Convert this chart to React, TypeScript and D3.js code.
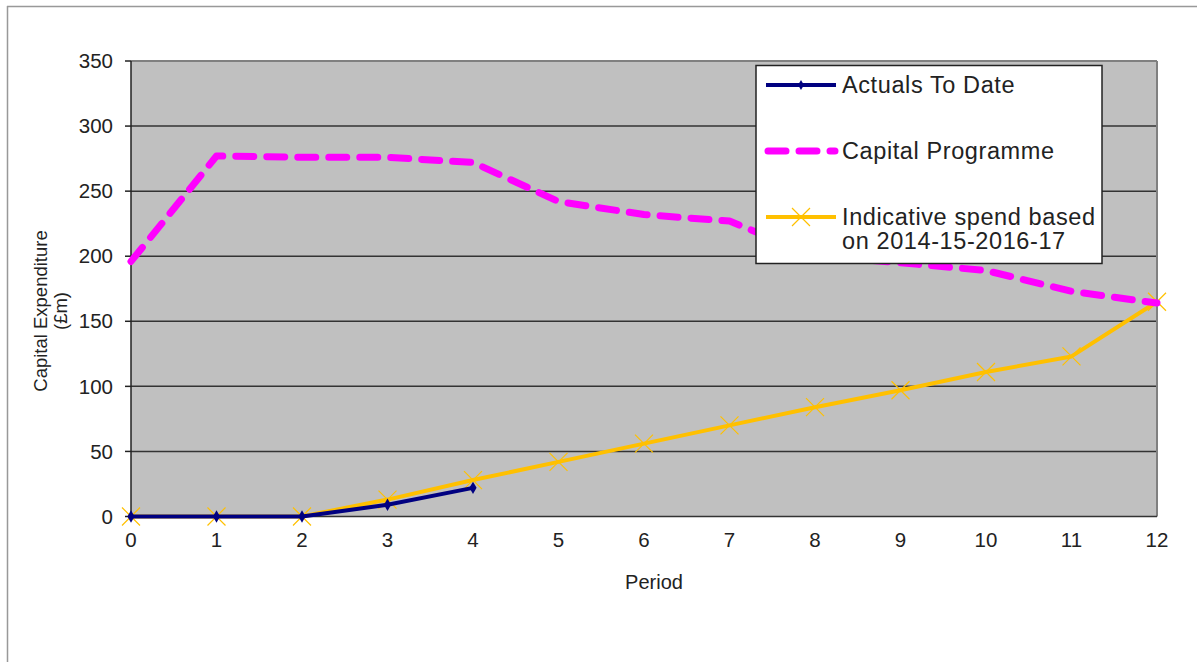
import React from "react";
import * as d3 from "d3";

const periods = [0, 1, 2, 3, 4, 5, 6, 7, 8, 9, 10, 11, 12];
const actuals = [0, 0, 0, 9, 22];
const capitalProgramme = [196, 277, 276, 276, 272, 242, 232, 227, 200, 195, 189, 173, 164];
const indicative = [0, 0, 0, 13, 28, 42, 56, 70, 84, 97, 111, 123, 165];
const yTicks = [0, 50, 100, 150, 200, 250, 300, 350];
const legendLabels = ["Actuals To Date", "Capital Programme", "Indicative spend based", "on 2014-15-2016-17"];

const W = 1197, H = 662;
const L = 131, R = 1157, T = 61, B = 516.5;

export default function App() {
  const x = d3.scaleLinear().domain([0, 12]).range([L, R]);
  const y = d3.scaleLinear().domain([0, 350]).range([B, T]);
  const line = d3.line<number>().x((_, i) => x(periods[i])).y((d) => y(d));
  const font = "'Liberation Sans', Arial, sans-serif";
  const diamond = d3.symbol().type(d3.symbolDiamond).size(45)();
  const legDiamond = d3.symbol().type(d3.symbolDiamond).size(30)();
  return (
    <svg width={W} height={H} style={{ position: "absolute", left: 0, top: 0 }} fontFamily={font}>
      <rect x={0} y={0} width={W} height={H} fill="#fff" />
      <line x1={7} y1={6.5} x2={W} y2={6.5} stroke="#999" strokeWidth={1.5} />
      <line x1={7.5} y1={6} x2={7.5} y2={H} stroke="#999" strokeWidth={1.5} />
      <rect x={L} y={T} width={R - L} height={B - T} fill="#c0c0c0" />
      {yTicks.filter((t) => t > 0 && t < 350).map((t) => (
        <line key={t} x1={L} x2={R} y1={y(t)} y2={y(t)} stroke="#333" strokeWidth={1.5} />
      ))}
      <line x1={L} x2={R} y1={T} y2={T} stroke="#808080" strokeWidth={2} />
      <line x1={R} x2={R} y1={T} y2={B} stroke="#808080" strokeWidth={2} />
      <line x1={L} x2={R} y1={B} y2={B} stroke="#333" strokeWidth={1.5} />
      <line x1={L} x2={L} y1={T} y2={B} stroke="#222" strokeWidth={1.5} />
      {yTicks.map((t) => (
        <g key={t}>
          <line x1={L - 6} x2={L} y1={y(t)} y2={y(t)} stroke="#222" strokeWidth={1.5} />
          <text x={113} y={y(t)} dy="0.35em" textAnchor="end" fontSize={20.5} fill="#222">{t}</text>
        </g>
      ))}
      {periods.map((p) => (
        <text key={p} x={x(p)} y={540} dy="0.35em" textAnchor="middle" fontSize={20.5} fill="#222">{p}</text>
      ))}
      <text x={654} y={582} dy="0.35em" textAnchor="middle" fontSize={20} fill="#222">Period</text>
      <g transform="translate(41,311) rotate(-90)">
        <text x={0} y={0} dy="0.35em" textAnchor="middle" fontSize={18.5} fill="#222">Capital Expenditure</text>
        <text x={0} y={20} dy="0.35em" textAnchor="middle" fontSize={18.5} fill="#222">(£m)</text>
      </g>
      <path d={line(indicative) || ""} fill="none" stroke="#ffc000" strokeWidth={4} strokeLinejoin="round" />
      {indicative.map((v, i) => (
        <path key={i} transform={`translate(${x(periods[i])},${y(v)})`} d="M-9,-9L9,9M-9,9L9,-9" stroke="#ffc000" strokeWidth={1.2} fill="none" />
      ))}
      <path d={line(capitalProgramme) || ""} fill="none" stroke="#ff00ff" strokeWidth={7} strokeDasharray="18,13" strokeLinecap="round" strokeLinejoin="round" />
      <path d={line(actuals) || ""} fill="none" stroke="#000080" strokeWidth={4} strokeLinejoin="round" />
      {actuals.map((v, i) => (
        <path key={i} transform={`translate(${x(periods[i])},${y(v)})`} d={diamond || ""} fill="#000080" />
      ))}
      <g>
        <rect x={756} y={65.5} width={346} height={198} fill="#fff" stroke="#222" strokeWidth={1.5} />
        <line x1={766} x2={836} y1={85} y2={85} stroke="#000080" strokeWidth={4} />
        <path transform="translate(801,85)" d={legDiamond || ""} fill="#000080" />
        <line x1={768} x2={835} y1={151} y2={151} stroke="#ff00ff" strokeWidth={7} strokeDasharray="18,13" strokeLinecap="round" />
        <line x1={766} x2={836} y1={217} y2={217} stroke="#ffc000" strokeWidth={4} />
        <path transform="translate(801,217)" d="M-9,-9L9,9M-9,9L9,-9" stroke="#ffc000" strokeWidth={1.2} fill="none" />
        <text x={842} y={85} dy="0.35em" fontSize={23.5} letterSpacing={0.6} fill="#222">{legendLabels[0]}</text>
        <text x={842} y={151} dy="0.35em" fontSize={23.5} letterSpacing={0.6} fill="#222">{legendLabels[1]}</text>
        <text x={842} y={217} dy="0.35em" fontSize={23.5} letterSpacing={0.6} fill="#222">{legendLabels[2]}</text>
        <text x={842} y={241} dy="0.35em" fontSize={23.5} letterSpacing={0.6} fill="#222">{legendLabels[3]}</text>
      </g>
    </svg>
  );
}
